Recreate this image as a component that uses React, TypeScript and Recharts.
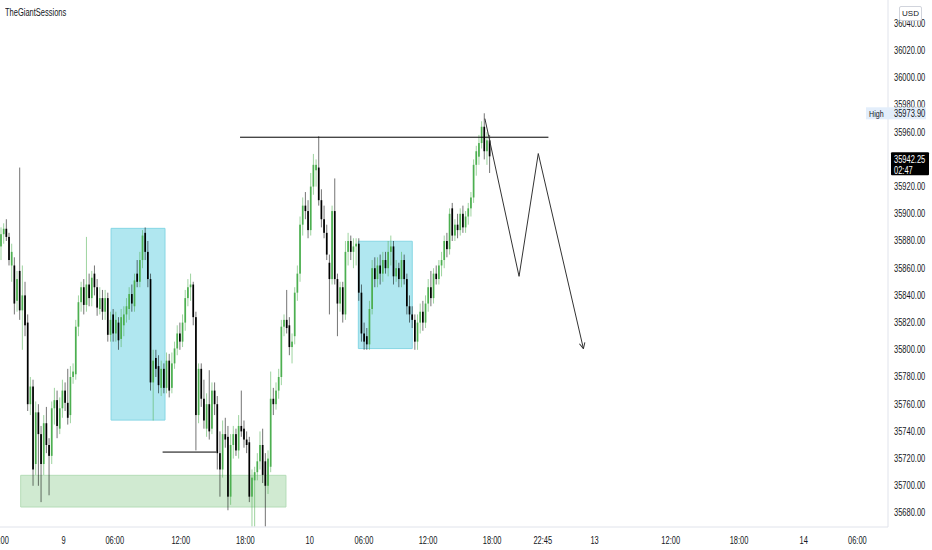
import React from "react";
import {
  ComposedChart,
  Bar,
  XAxis,
  YAxis,
  ReferenceArea,
  ReferenceLine,
} from "recharts";

// 15-minute candles (bar index -> OHLC)
const opens = [
  35876, 35885, 35889, 35883, 35862, 35862, 35836, 35858, 35829, 35840,
  35820, 35760, 35773, 35716, 35754, 35738, 35716, 35746, 35730, 35722,
  35757, 35763, 35742, 35757, 35770, 35761, 35752, 35780, 35782, 35817,
  35835, 35846, 35833, 35848, 35838, 35856, 35846, 35830, 35838, 35828,
  35838, 35811, 35826, 35812, 35820, 35808, 35818, 35826, 35830, 35841,
  35832, 35856, 35850, 35866, 35886, 35872, 35852, 35776, 35794, 35788,
  35772, 35786, 35772, 35792, 35772, 35790, 35801, 35812, 35806, 35820,
  35838, 35846, 35848, 35824, 35752, 35786, 35764, 35742, 35760, 35742,
  35770, 35760, 35724, 35712, 35738, 35736, 35692, 35730, 35738, 35726,
  35744, 35742, 35734, 35732, 35692, 35704, 35710, 35718, 35730, 35718,
  35700, 35714, 35764, 35760, 35770, 35780, 35817, 35822, 35818, 35802,
  35810, 35842, 35856, 35892, 35906, 35902, 35888, 35920, 35932, 35934,
  35910, 35896, 35886, 35864, 35852, 35902, 35852, 35834, 35846, 35826,
  35872, 35880, 35872, 35876, 35878, 35842, 35812, 35810, 35804, 35830,
  35860, 35852, 35862, 35856, 35866, 35860, 35872, 35876, 35854, 35860,
  35852, 35866, 35852, 35832, 35826, 35822, 35806, 35820, 35828, 35820,
  35834, 35846, 35838, 35856, 35852, 35862, 35866, 35880, 35874, 35904,
  35884, 35892, 35888, 35900, 35890, 35898, 35904, 35912, 35936, 35942,
  35952, 35964, 35946, 35954,
];

const highs = [
  35890, 35893, 35896, 35886, 35878, 35868, 35858, 35934, 35862, 35850,
  35826, 35780, 35778, 35762, 35760, 35744, 35752, 35758, 35735, 35762,
  35772, 35770, 35765, 35778, 35776, 35786, 35788, 35790, 35822, 35840,
  35850, 35852, 35883, 35856, 35858, 35862, 35852, 35846, 35844, 35844,
  35842, 35828, 35830, 35828, 35824, 35830, 35832, 35838, 35846, 35848,
  35856, 35866, 35872, 35888, 35890, 35880, 35856, 35800, 35800, 35796,
  35792, 35790, 35798, 35797, 35798, 35806, 35818, 35820, 35826, 35844,
  35852, 35856, 35850, 35828, 35790, 35790, 35778, 35768, 35785, 35776,
  35776, 35766, 35740, 35748, 35750, 35744, 35738, 35744, 35742, 35752,
  35770, 35748, 35740, 35736, 35712, 35714, 35724, 35740, 35742, 35724,
  35726, 35784, 35772, 35776, 35786, 35822, 35826, 35844, 35824, 35812,
  35846, 35862, 35898, 35912, 35916, 35910, 35930, 35944, 35940, 35957,
  35918, 35906, 35892, 35870, 35906, 35926, 35856, 35850, 35850, 35880,
  35886, 35884, 35882, 35882, 35882, 35848, 35820, 35816, 35836, 35866,
  35868, 35868, 35870, 35872, 35872, 35880, 35884, 35880, 35866, 35864,
  35872, 35870, 35856, 35840, 35832, 35826, 35826, 35834, 35836, 35840,
  35852, 35858, 35860, 35862, 35866, 35872, 35884, 35886, 35904, 35908,
  35896, 35900, 35904, 35906, 35902, 35908, 35916, 35940, 35950, 35958,
  35968, 35973.9, 35960, 35958,
];

const lows = [
  35866, 35878, 35880, 35862, 35850, 35826, 35828, 35822, 35800, 35810,
  35755, 35752, 35700, 35708, 35700, 35688, 35708, 35724, 35693, 35716,
  35745, 35735, 35738, 35750, 35755, 35745, 35746, 35775, 35778, 35810,
  35828, 35826, 35828, 35832, 35832, 35840, 35825, 35826, 35822, 35822,
  35806, 35806, 35806, 35806, 35800, 35802, 35810, 35820, 35822, 35828,
  35828, 35846, 35846, 35860, 35866, 35846, 35770, 35748, 35780, 35768,
  35766, 35768, 35768, 35765, 35768, 35786, 35796, 35800, 35802, 35814,
  35832, 35836, 35818, 35726, 35746, 35758, 35742, 35736, 35734, 35738,
  35752, 35712, 35692, 35706, 35728, 35682, 35686, 35720, 35722, 35720,
  35736, 35728, 35724, 35688, 35670, 35670, 35704, 35712, 35702, 35670,
  35694, 35710, 35752, 35756, 35764, 35774, 35810, 35812, 35796, 35790,
  35804, 35836, 35850, 35884, 35896, 35882, 35884, 35914, 35920, 35906,
  35890, 35882, 35866, 35826, 35848, 35848, 35810, 35828, 35820, 35822,
  35862, 35866, 35860, 35862, 35836, 35806, 35800, 35800, 35800, 35826,
  35846, 35846, 35848, 35850, 35856, 35854, 35862, 35848, 35850, 35846,
  35846, 35848, 35826, 35820, 35816, 35800, 35800, 35812, 35814, 35816,
  35828, 35832, 35834, 35848, 35848, 35854, 35860, 35868, 35870, 35880,
  35880, 35882, 35884, 35886, 35886, 35892, 35898, 35908, 35928, 35936,
  35948, 35940, 35936, 35930,
];

const closes = [
  35885, 35889, 35883, 35866, 35872, 35834, 35852, 35829, 35840, 35818,
  35760, 35773, 35712, 35754, 35738, 35716, 35746, 35730, 35722, 35757,
  35763, 35744, 35757, 35770, 35761, 35750, 35780, 35784, 35817, 35835,
  35846, 35833, 35848, 35838, 35853, 35846, 35831, 35838, 35828, 35838,
  35811, 35822, 35812, 35822, 35807, 35824, 35826, 35832, 35841, 35834,
  35851, 35850, 35866, 35884, 35872, 35852, 35776, 35792, 35786, 35774,
  35786, 35772, 35792, 35770, 35790, 35801, 35812, 35806, 35820, 35838,
  35846, 35848, 35824, 35752, 35786, 35764, 35748, 35760, 35740, 35770,
  35760, 35724, 35712, 35738, 35734, 35692, 35730, 35738, 35726, 35744,
  35740, 35734, 35730, 35692, 35706, 35710, 35718, 35730, 35708, 35700,
  35720, 35764, 35760, 35770, 35780, 35817, 35822, 35816, 35802, 35806,
  35842, 35856, 35892, 35906, 35902, 35888, 35920, 35936, 35936, 35910,
  35896, 35886, 35870, 35852, 35902, 35852, 35834, 35846, 35826, 35872,
  35880, 35872, 35876, 35878, 35842, 35812, 35806, 35804, 35830, 35860,
  35852, 35862, 35856, 35866, 35860, 35872, 35876, 35854, 35860, 35852,
  35866, 35852, 35832, 35826, 35822, 35806, 35820, 35828, 35820, 35834,
  35846, 35838, 35856, 35852, 35862, 35866, 35880, 35874, 35900, 35884,
  35892, 35888, 35900, 35890, 35898, 35904, 35912, 35936, 35946, 35952,
  35964, 35946, 35954, 35942.25,
];

// time scale ticks (bar index) and their labels
const timeTicks = [-0.7, 23.3, 42.5, 67.2, 91.4, 115.5, 135.8, 159.8, 183.8, 202.8, 222.2, 250.7, 276.3, 300.5, 320.6];
const timeLabels = ["18:00", "9", "06:00", "12:00", "18:00", "10", "06:00", "12:00", "18:00", "22:45", "13", "12:00", "18:00", "14", "06:00"];

const priceTicks = [
  35680, 35700, 35720, 35740, 35760, 35780, 35800, 35820, 35840, 35860,
  35880, 35900, 35920, 35940, 35960, 35980, 36000, 36020, 36040,
];

// drawings on the chart (bar index / price)
const blueBoxes = [
  { x1: 41.1, x2: 61.3, y1: 35748.3, y2: 35889.3 },
  { x1: 133.7, x2: 153.9, y1: 35800.9, y2: 35879.8 },
];
const greenBox = { x1: 7.25, x2: 106.6, y1: 35684.4, y2: 35707.7 };
const levelLines = [
  { x1: 89.4, x2: 204.9, y: 35956.3 },
  { x1: 60.4, x2: 80.4, y: 35724.8 },
];
const pathPoints = [
  { x: 181.1, y: 35970 },
  { x: 193.9, y: 35854 },
  { x: 201.1, y: 35944.3 },
  { x: 218.0, y: 35800.9 },
];

const highValue = 35973.9;
const lastPrice = 35942.25;
const countdown = "02:47";

const candles = closes.map((c, i) => ({ i, o: opens[i], h: highs[i], l: lows[i], c }));

// the screenshot is horizontally squeezed, so text is narrowed with scaleX
const FONT = "'Liberation Sans', Arial, sans-serif";
const SQUEEZE = 0.75;
const TEXT = "#131722";
const UP = "#4caf50";
const DOWN = "#000000";

const NarrowText = (props: any) => {
  const { x, y, anchor = "start", size = 10, fill = TEXT, children } = props;
  return (
    <text
      transform={`translate(${x},${y}) scale(${SQUEEZE},1)`}
      textAnchor={anchor}
      dy="0.35em"
      fontFamily={FONT}
      fontSize={size}
      fill={fill}
    >
      {children}
    </text>
  );
};

const TimeTick = (props: any) => {
  const { x, y, payload } = props;
  const label = timeLabels[timeTicks.indexOf(payload.value)] ?? "";
  return <NarrowText x={x} y={y + 5} anchor="middle">{label}</NarrowText>;
};

// the last-price tag covers this tick in the screenshot
const hiddenPriceTicks = [35940];

const PriceTick = (props: any) => {
  const { x, y, payload } = props;
  if (hiddenPriceTicks.includes(payload.value)) return <g />;
  return <NarrowText x={x} y={y}>{payload.value.toFixed(2)}</NarrowText>;
};

const Candle = (props: any) => {
  const { x, y, width, height, payload } = props;
  if (!payload) return null;
  const { o, h, l, c } = payload;
  const top = Math.min(y, y + height);
  const full = Math.abs(height);
  const k = h - l > 0 ? full / (h - l) : 0;
  const bodyTop = top + (h - Math.max(o, c)) * k;
  const bodyBot = top + (h - Math.min(o, c)) * k;
  const cx = x + width / 2;
  const color = c >= o ? UP : DOWN;
  return (
    <g>
      <line x1={cx} x2={cx} y1={top} y2={top + full} stroke={color} strokeWidth={1} strokeOpacity={0.55} />
      <rect x={cx - 0.85} y={bodyTop} width={1.7} height={Math.max(bodyBot - bodyTop, 1)} fill={color} />
    </g>
  );
};

const HighTag = (props: any) => {
  const { viewBox } = props;
  const right = viewBox.x + viewBox.width;
  const cy = viewBox.y;
  return (
    <g>
      <rect x={right - 22} y={cy - 6} width={60} height={12} fill="#e3eefb" />
      <NarrowText x={right - 19} y={cy} size={9.5}>High</NarrowText>
      <NarrowText x={right + 6} y={cy}>{highValue.toFixed(2)}</NarrowText>
    </g>
  );
};

const PriceTag = (props: any) => {
  const { viewBox } = props;
  const right = viewBox.x + viewBox.width;
  const cy = viewBox.y;
  return (
    <g>
      <rect x={right + 3} y={cy - 4} width={38} height={23} rx={1} fill="#000" />
      <NarrowText x={right + 6} y={cy + 3} fill="#fff">{lastPrice.toFixed(2)}</NarrowText>
      <NarrowText x={right + 6} y={cy + 14} fill="#fff">{countdown}</NarrowText>
    </g>
  );
};

const ArrowSegment = (props: any) => (
  <line
    x1={props.x1}
    y1={props.y1}
    x2={props.x2}
    y2={props.y2}
    stroke="#333"
    strokeWidth={1}
    markerEnd="url(#arrowHead)"
  />
);

export default function App() {
  return (
    <div style={{ position: "absolute", left: 0, top: 0, width: 932, height: 550, background: "#fff" }}>
      <ComposedChart
        width={932}
        height={550}
        data={candles}
        margin={{ top: 0, right: 0, bottom: 0, left: 0 }}
      >
        <defs>
          <marker id="arrowHead" viewBox="0 0 10 10" refX="9" refY="5" markerWidth="7" markerHeight="7" orient="auto">
            <path d="M1,1 L9,5 L1,9" fill="none" stroke="#333" strokeWidth="1.4" />
          </marker>
        </defs>
        <XAxis
          dataKey="i"
          type="number"
          domain={[-0.5, 332.08]}
          allowDataOverflow
          ticks={timeTicks}
          interval={0}
          height={23}
          tickLine={false}
          axisLine={{ stroke: "#e0e3eb" }}
          tick={TimeTick}
        />
        <YAxis
          orientation="right"
          width={44}
          type="number"
          domain={[35669.7, 36057.2]}
          allowDataOverflow
          ticks={priceTicks}
          interval={0}
          tickLine={false}
          tickSize={4}
          axisLine={{ stroke: "#e0e3eb" }}
          tick={PriceTick}
        />
        <ReferenceArea
          x1={greenBox.x1}
          x2={greenBox.x2}
          y1={greenBox.y1}
          y2={greenBox.y2}
          fill="#c8e6c9"
          fillOpacity={0.85}
          stroke="#b5dcb7"
          strokeOpacity={1}
        />
        {blueBoxes.map((b, k) => (
          <ReferenceArea
            key={k}
            x1={b.x1}
            x2={b.x2}
            y1={b.y1}
            y2={b.y2}
            fill="#a7e4ee"
            fillOpacity={0.9}
            stroke="#86d6e4"
            strokeOpacity={1}
          />
        ))}
        <Bar
          dataKey={(d: any) => [d.l, d.h]}
          barSize={2}
          shape={Candle}
          isAnimationActive={false}
        />
        {levelLines.map((l, k) => (
          <ReferenceLine
            key={k}
            segment={[{ x: l.x1, y: l.y }, { x: l.x2, y: l.y }]}
            stroke="#000"
            strokeWidth={1}
          />
        ))}
        {pathPoints.slice(0, -1).map((p, k) => {
          const q = pathPoints[k + 1];
          const last = k === pathPoints.length - 2;
          return (
            <ReferenceLine
              key={"p" + k}
              segment={[{ x: p.x, y: p.y }, { x: q.x, y: q.y }]}
              stroke="#333"
              strokeWidth={1}
              shape={last ? ArrowSegment : undefined}
            />
          );
        })}
        <ReferenceLine y={highValue} stroke="none" label={HighTag} zIndex={3000} />
        <ReferenceLine y={lastPrice} stroke="none" label={PriceTag} zIndex={3000} />
      </ComposedChart>
      <div
        style={{
          position: "absolute",
          left: 5,
          top: 7,
          fontFamily: FONT,
          fontSize: 10,
          color: TEXT,
          transform: `scaleX(${SQUEEZE})`,
          transformOrigin: "left top",
          whiteSpace: "nowrap",
        }}
      >
        TheGiantSessions
      </div>
      <div
        style={{
          position: "absolute",
          left: 899,
          top: 6,
          width: 21,
          height: 13,
          border: "1px solid #d1d4dc",
          borderRadius: 2,
          background: "#fff",
          fontFamily: FONT,
          fontSize: 8,
          lineHeight: "13px",
          textAlign: "center",
          color: TEXT,
        }}
      >
        USD
      </div>
    </div>
  );
}
